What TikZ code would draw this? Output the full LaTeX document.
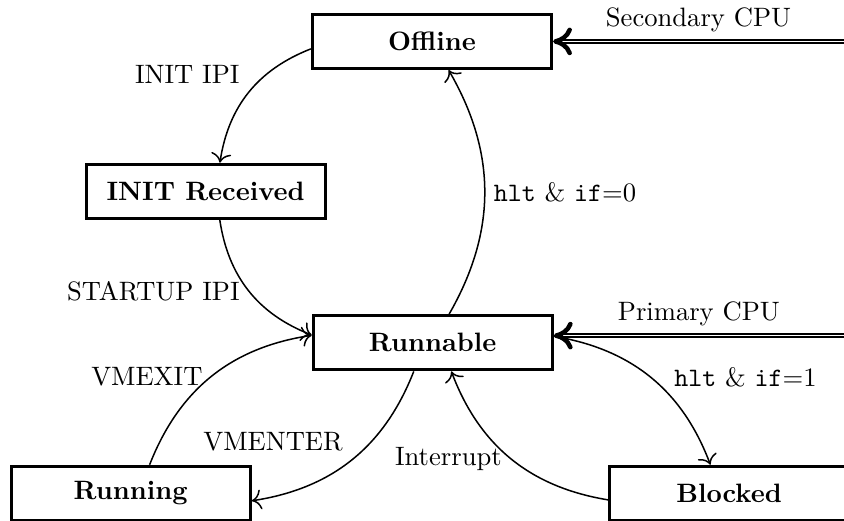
\documentclass[tikz,border=0pt]{standalone}
\usetikzlibrary{positioning, arrows.meta}
\begin{document}
\begin{tikzpicture}[semithick, font=\fontsize{10.6}{12.7}\selectfont, >={Computer Modern Rightarrow[scale=1.3]},
		main/.style = {draw, rectangle, very thick, minimum width=3.35cm, minimum height=0.76cm, font=\fontsize{10.6}{12.7}\selectfont\bfseries},
		cpu/.style = {<-, double, thick, >={Computer Modern Rightarrow[length=7.5pt, width=11pt, line width=1.8pt]}}]
	\useasboundingbox (0,0) rectangle (11.82,7.29);
	\node[main] (1) at (6.05,6.71) {Offline};
	\node[main] (2) at (2.88,4.61) {INIT Received};
	\node[main] (3) at (6.06,2.49) {Runnable};
	\node[main] (4) at (1.83,0.38) {Running};
	\node[main] (5) at (10.21,0.38) {Blocked};
	\coordinate (6) at (11.82,6.71);
	\coordinate (7) at (11.82,2.59);
	\draw[->] (1) to [bend right] node[above left] {INIT IPI} (2);
	\draw[->] (2) to [bend right] node[left] {STARTUP IPI} (3);
	\draw[->] (3) to [bend right] node[right] {\texttt{hlt} \& \texttt{if}=0} (1);
	\draw[->] (4) to [bend left] node[left] {VMEXIT} (3);
	\draw[->] (3) to [bend left] node[above left] {VMENTER} (4);
	\draw[->] (5) to [bend left] node[left] {Interrupt} (3);
	\draw[->] (3) to [bend left] node[right=2mm] {\texttt{hlt} \& \texttt{if}=1} (5);
	\draw[cpu] (1) -- node[above] {Secondary CPU} (6);
	\draw[cpu] (3.east |- 7) -- node[above] {Primary CPU} (7);
\end{tikzpicture}
\end{document}
